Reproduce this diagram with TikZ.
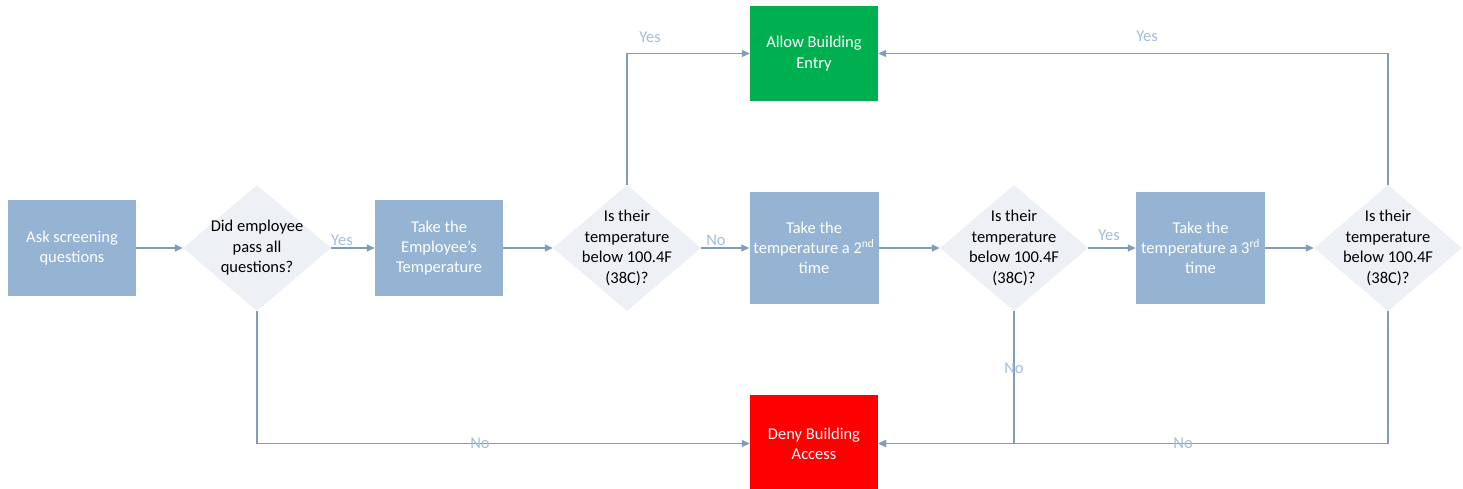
\documentclass[tikz,border=0pt]{standalone}
\usepackage{fontspec}
\setmainfont{Carlito}
\usetikzlibrary{shapes.geometric,arrows.meta}
\definecolor{boxblue}{HTML}{95B3D3}
\definecolor{diafill}{HTML}{EDF0F5}
\definecolor{linec}{HTML}{7F9CBA}
\definecolor{labc}{HTML}{A3BDDA}
\definecolor{okgreen}{HTML}{00B050}
\definecolor{nored}{HTML}{FF0000}
\tikzset{
  bluebox/.style={draw=none, fill=boxblue, minimum width=128pt, minimum height=96pt, inner sep=0pt},
  decision/.style={shape=diamond, draw=none, fill=diafill, minimum width=148pt, minimum height=126pt, inner sep=0pt},
  boxtext/.style={align=center, text=white, font=\fontsize{16.5}{20.3}\selectfont},
  diatext/.style={align=center, text=black, font=\fontsize{16.5}{20.5}\selectfont},
  conn/.style={draw=linec, line width=1.3pt, -{Triangle[length=8pt,width=7pt]}},
  lab/.style={text=labc, font=\fontsize{16.5}{19}\selectfont, inner sep=0pt}
}
\begin{document}
\begin{tikzpicture}[x=1pt,y=-1pt]
\useasboundingbox (0,0) rectangle (1463,488);
% boxes
\node[bluebox] (b1) at (72,248) {};
\node[boxtext] (b1t) at (b1.center) {Ask screening\\questions};
\node[decision] (d1) at (257,248) {};
\node[diatext] (d1t) at (d1.center) {Did employee\\pass all\\questions?};
\node[bluebox] (b2) at (439,248) {};
\node[boxtext] (b2t) at (b2.center) {Take the\\Employee’s\\Temperature};
\node[decision] (d2) at (627,248) {};
\node[diatext] (d2t) at (d2.center) {Is their\\temperature\\below 100.4F\\(38C)?};
\node[bluebox, fill=okgreen, minimum height=95pt] (allow) at (814,53.5) {};
\node[boxtext] (allowt) at (allow.center) {Allow Building\\Entry};
\node[bluebox, minimum width=129pt, minimum height=112pt] (b3) at (814,248) {};
\node[boxtext] (b3t) at (b3.center) {Take the\\temperature a 2\textsuperscript{nd}\\time};
\node[decision] (d3) at (1014,248) {};
\node[diatext] (d3t) at (d3.center) {Is their\\temperature\\below 100.4F\\(38C)?};
\node[bluebox, minimum width=129pt, minimum height=112pt] (b4) at (1200.5,248) {};
\node[boxtext] (b4t) at (b4.center) {Take the\\temperature a 3\textsuperscript{rd}\\time};
\node[decision] (d4) at (1388,248) {};
\node[diatext] (d4t) at (d4.center) {Is their\\temperature\\below 100.4F\\(38C)?};
\node[bluebox, fill=nored, minimum height=97pt] (deny) at (814,443.5) {};
\node[boxtext] (denyt) at (814,444) {Deny Building\\Access};
% connectors
\draw[conn] (b1) -- (d1);
\draw[conn] (d1) -- (b2);
\draw[conn] (b2) -- (d2);
\draw[conn] (d2) -- (b3);
\draw[conn] (b3) -- (d3);
\draw[conn] (d3) -- (b4);
\draw[conn] (b4) -- (d4);
\draw[conn] (d2.north) |- (allow.west);
\draw[conn] (d4.north) |- (allow.east);
\draw[conn] (d1.south) |- (deny.west);
\draw[conn] (d3.south) |- (deny.east);
\draw[conn] (d4.south) |- (deny.east);
% labels
\node[lab] (l1) at (342,240) {Yes};
\node[lab] (l2) at (716,240) {No};
\node[lab] (l3) at (650,37) {Yes};
\node[lab] (l4) at (1109,235) {Yes};
\node[lab] (l5) at (1147,36) {Yes};
\node[lab] (l6) at (480,443) {No};
\node[lab] (l7) at (1014,368) {No};
\node[lab] (l8) at (1183,443) {No};
\end{tikzpicture}
\end{document}
